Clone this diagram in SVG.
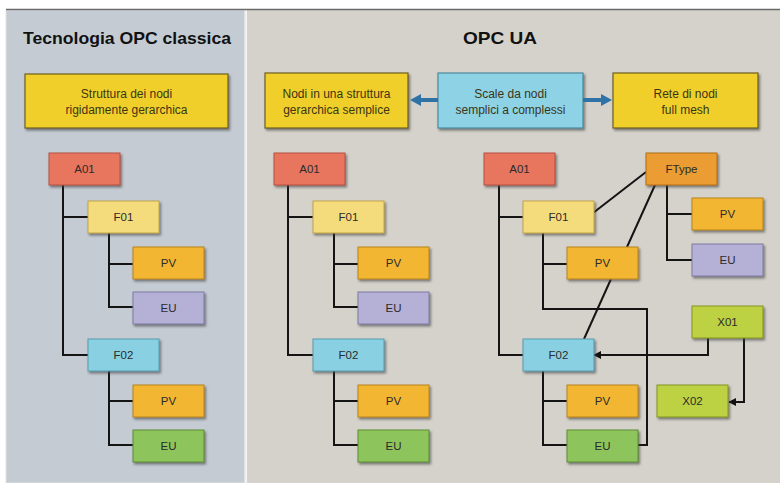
<svg xmlns="http://www.w3.org/2000/svg" width="780" height="483" viewBox="0 0 780 483">
<defs>
<filter id="sh" x="-20%" y="-20%" width="150%" height="160%">
<feDropShadow dx="1.5" dy="2" stdDeviation="1.2" flood-color="#3a3a3a" flood-opacity="0.6"/>
</filter>
<marker id="ah" viewBox="0 0 10 10" refX="9" refY="5" markerWidth="4" markerHeight="4" orient="auto">
<path d="M0 0 L10 5 L0 10 Z" fill="#111"/>
</marker>
<style>
.n rect{filter:url(#sh);stroke-width:1}
.n text{font-family:"Liberation Sans",Arial,sans-serif;font-size:11.5px;fill:#2b2b2b;text-anchor:middle}
.a rect{fill:#e8765e;stroke:#b65040}
.f1 rect{fill:#f4dc7c;stroke:#c0a448}
.pv rect{fill:#f2b632;stroke:#b88418}
.eup rect{fill:#b5b0d6;stroke:#7f7aa2}
.f2 rect{fill:#88d0e2;stroke:#5a9aae}
.eug rect{fill:#8ec45c;stroke:#5c8c34}
.ft rect{fill:#eb9c30;stroke:#b06f14}
.x rect{fill:#bcd242;stroke:#84961e}
.hb rect{fill:#f1cf2c;stroke:#6e6020;stroke-width:1.2;filter:url(#sh)}
.hb.b rect{fill:#8ed2e6;stroke:#4b8aa0}
.hb text{font-family:"Liberation Sans",Arial,sans-serif;font-size:12px;fill:#3b3514;text-anchor:middle}
.t{font-family:"Liberation Sans",Arial,sans-serif;font-weight:bold;font-size:17px;fill:#111;text-anchor:middle}
#connectors path{fill:none;stroke:#141414;stroke-width:2}
</style>
</defs>
<rect width="780" height="483" fill="#ffffff"/>
<rect x="6" y="10" width="239" height="473" fill="#c4cbd3" stroke="#dfe3e6" stroke-width="1"/>
<rect x="247" y="10" width="533" height="473" fill="#d5d2cb"/>
<line x1="245.5" y1="10" x2="245.5" y2="483" stroke="#eeece8" stroke-width="2"/>
<line x1="6" y1="9.5" x2="780" y2="9.5" stroke="#6a6a6a" stroke-width="1.6"/>

<text class="t" x="127" y="44" textLength="208" lengthAdjust="spacingAndGlyphs">Tecnologia OPC classica</text>
<text class="t" x="500" y="44" textLength="74" lengthAdjust="spacingAndGlyphs">OPC UA</text>

<g id="hdr-left" class="hb"><rect x="25" y="74" width="203" height="54"/><text x="126.5" y="98">Struttura dei nodi</text><text x="126.5" y="114">rigidamente gerarchica</text></g>
<g id="hdr-simple" class="hb"><rect x="265" y="73" width="143" height="55"/><text x="336.5" y="98">Nodi in una struttura</text><text x="336.5" y="114">gerarchica semplice</text></g>
<g id="hdr-scale" class="hb b"><rect x="438" y="73" width="145" height="55"/><text x="510.5" y="98">Scale da nodi</text><text x="510.5" y="114">semplici a complessi</text></g>
<g id="hdr-mesh" class="hb"><rect x="613" y="73" width="145" height="55"/><text x="685.5" y="98">Rete di nodi</text><text x="685.5" y="114">full mesh</text></g>

<g id="connectors">
<path d="M421 98 H438 V102 H421 V106 L410 100 L421 94 Z" style="fill:#2f72a6;stroke:none"/>
<path d="M583 98 H601 V94 L612 100 L601 106 V102 H583 Z" style="fill:#2f72a6;stroke:none"/>
<!-- left tree -->
<path d="M63 185 V355 H88 M63 217 H88 M109 233 V307 H133 M109 264 H133 M109 371 V445 H133 M109 401 H133"/>
<!-- middle tree -->
<path d="M288 185 V355 H313 M288 217 H313 M334 233 V307 H358 M334 264 H358 M334 371 V445 H358 M334 401 H358"/>
<!-- right mesh -->
<path d="M499 185 V355 H523 M499 217 H523"/>
<path d="M543 233 V309 H647 V445 H638 M543 264 H567"/>
<path d="M543 371 V445 H567 M543 401 H567"/>
<path d="M667 185 V260 H692 M667 214 H692"/>
<path d="M646 172 L593 213"/>
<path d="M655 185 L627 247"/>
<path d="M611 279 L584 339"/>
<path d="M708 338 V355 H594" marker-end="url(#ah)"/>
<path d="M744 338 V402 H729" marker-end="url(#ah)"/>
</g>

<g id="l-A01" class="n a"><rect x="49" y="153" width="71" height="32"/><text x="84.5" y="173">A01</text></g>
<g id="l-F01" class="n f1"><rect x="88" y="201" width="71" height="32"/><text x="123.5" y="221">F01</text></g>
<g id="l-PV1" class="n pv"><rect x="133" y="247" width="71" height="32"/><text x="168.5" y="267">PV</text></g>
<g id="l-EU1" class="n eup"><rect x="133" y="292" width="71" height="32"/><text x="168.5" y="312">EU</text></g>
<g id="l-F02" class="n f2"><rect x="88" y="339" width="71" height="32"/><text x="123.5" y="359">F02</text></g>
<g id="l-PV2" class="n pv"><rect x="133" y="385" width="71" height="32"/><text x="168.5" y="405">PV</text></g>
<g id="l-EU2" class="n eug"><rect x="133" y="430" width="71" height="32"/><text x="168.5" y="450">EU</text></g>

<g id="m-A01" class="n a"><rect x="274" y="153" width="71" height="32"/><text x="309.5" y="173">A01</text></g>
<g id="m-F01" class="n f1"><rect x="313" y="201" width="71" height="32"/><text x="348.5" y="221">F01</text></g>
<g id="m-PV1" class="n pv"><rect x="358" y="247" width="71" height="32"/><text x="393.5" y="267">PV</text></g>
<g id="m-EU1" class="n eup"><rect x="358" y="292" width="71" height="32"/><text x="393.5" y="312">EU</text></g>
<g id="m-F02" class="n f2"><rect x="313" y="339" width="71" height="32"/><text x="348.5" y="359">F02</text></g>
<g id="m-PV2" class="n pv"><rect x="358" y="385" width="71" height="32"/><text x="393.5" y="405">PV</text></g>
<g id="m-EU2" class="n eug"><rect x="358" y="430" width="71" height="32"/><text x="393.5" y="450">EU</text></g>

<g id="r-A01" class="n a"><rect x="484" y="153" width="71" height="32"/><text x="519.5" y="173">A01</text></g>
<g id="r-F01" class="n f1"><rect x="523" y="201" width="71" height="32"/><text x="558.5" y="221">F01</text></g>
<g id="r-FType" class="n ft"><rect x="646" y="153" width="71" height="32"/><text x="681.5" y="173">FType</text></g>
<g id="r-PVt" class="n pv"><rect x="692" y="198" width="71" height="32"/><text x="727.5" y="218">PV</text></g>
<g id="r-EUt" class="n eup"><rect x="692" y="244" width="71" height="32"/><text x="727.5" y="264">EU</text></g>
<g id="r-PV1" class="n pv"><rect x="567" y="247" width="71" height="32"/><text x="602.5" y="267">PV</text></g>
<g id="r-X01" class="n x"><rect x="692" y="306" width="71" height="32"/><text x="727.5" y="326">X01</text></g>
<g id="r-F02" class="n f2"><rect x="523" y="339" width="71" height="32"/><text x="558.5" y="359">F02</text></g>
<g id="r-X02" class="n x"><rect x="657" y="385" width="71" height="32"/><text x="692.5" y="405">X02</text></g>
<g id="r-PV2" class="n pv"><rect x="567" y="385" width="71" height="32"/><text x="602.5" y="405">PV</text></g>
<g id="r-EU2" class="n eug"><rect x="567" y="430" width="71" height="32"/><text x="602.5" y="450">EU</text></g>
</svg>
